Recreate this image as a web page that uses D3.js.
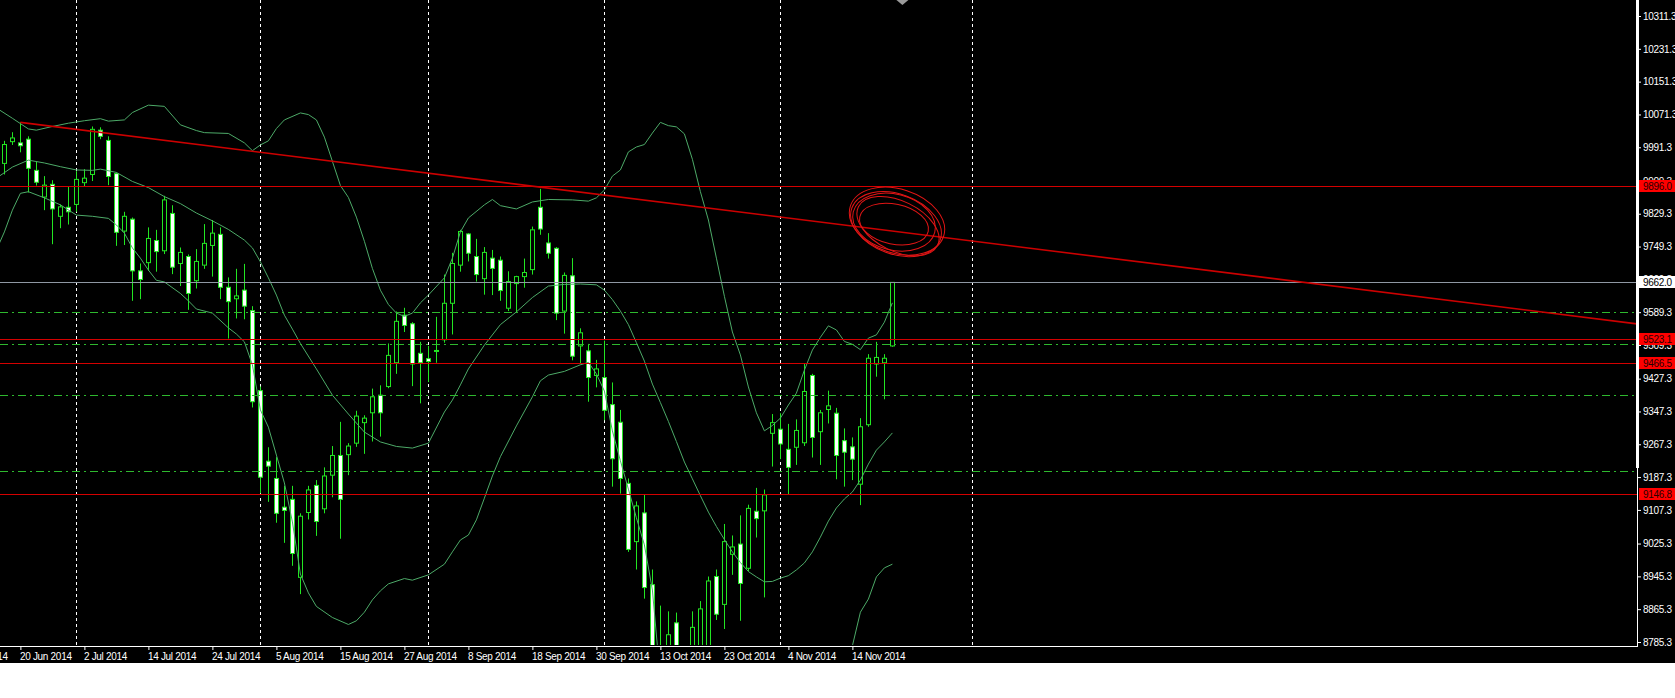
<!DOCTYPE html>
<html><head><meta charset="utf-8">
<script src="https://cdn.jsdelivr.net/npm/d3@7"></script>
<style>
html,body{margin:0;padding:0;background:#fff;overflow:hidden;}
svg{display:block;}
text{font-family:"Liberation Sans",Arial,sans-serif;font-size:10px;letter-spacing:-0.3px;}
</style></head><body>
<script>
// ---------- DATA ----------
const dates = ["2014-06-18","2014-06-19","2014-06-20","2014-06-23","2014-06-24","2014-06-25","2014-06-26","2014-06-27","2014-06-30",
"2014-07-01","2014-07-02","2014-07-03","2014-07-04","2014-07-07","2014-07-08","2014-07-09","2014-07-10","2014-07-11","2014-07-14","2014-07-15","2014-07-16","2014-07-17","2014-07-18","2014-07-21","2014-07-22","2014-07-23","2014-07-24","2014-07-25","2014-07-28","2014-07-29","2014-07-30","2014-07-31",
"2014-08-01","2014-08-04","2014-08-05","2014-08-06","2014-08-07","2014-08-08","2014-08-11","2014-08-12","2014-08-13","2014-08-14","2014-08-15","2014-08-18","2014-08-19","2014-08-20","2014-08-21","2014-08-22","2014-08-25","2014-08-26","2014-08-27","2014-08-28","2014-08-29",
"2014-09-01","2014-09-02","2014-09-03","2014-09-04","2014-09-05","2014-09-08","2014-09-09","2014-09-10","2014-09-11","2014-09-12","2014-09-15","2014-09-16","2014-09-17","2014-09-18","2014-09-19","2014-09-22","2014-09-23","2014-09-24","2014-09-25","2014-09-26","2014-09-29","2014-09-30",
"2014-10-01","2014-10-02","2014-10-06","2014-10-07","2014-10-08","2014-10-09","2014-10-10","2014-10-13","2014-10-14","2014-10-15","2014-10-16","2014-10-17","2014-10-20","2014-10-21","2014-10-22","2014-10-23","2014-10-24","2014-10-27","2014-10-28","2014-10-29","2014-10-30","2014-10-31",
"2014-11-03","2014-11-04","2014-11-05","2014-11-06","2014-11-07","2014-11-10","2014-11-11","2014-11-12","2014-11-13","2014-11-14","2014-11-17","2014-11-18","2014-11-19","2014-11-20","2014-11-21"];
const open  = [9952,10005,10002,10011,9935,9870,9901,9823,9845,9852,9905,9925,10033,10008,9927,9787,9816,9690,9710,9764,9739,9830,9708,9725,9666,9704,9752,9779,9650,9622,9643,9593,
9398,9226,9184,9114,9133,8943,9101,9167,9110,9192,9240,9242,9270,9320,9344,9387,9408,9466,9582,9561,9489,
9476,9494,9522,9611,9704,9780,9725,9671,9721,9716,9599,9659,9676,9693,9845,9758,9745,9592,9678,9507,9495,9435,
9430,9364,9321,9172,9030,9100,8925,8772,8740,8832,8600,8700,8770,8770,8945,8877,8999,9024,8965,9104,9105,9294,
9304,9255,9260,9271,9435,9298,9352,9343,9276,9261,9170,9315,9463,9466,9507];
const high  = [10007,10028,10052,10018,9956,9921,9911,9852,9896,9933,9938,10042,10040,10018,9930,9834,9820,9708,9796,9790,9873,9850,9747,9730,9743,9804,9814,9796,9674,9695,9707,9604,
9408,9260,9236,9166,9166,9099,9166,9180,9211,9263,9322,9270,9349,9338,9403,9411,9513,9591,9600,9565,9517,
9507,9578,9681,9734,9790,9782,9768,9748,9741,9725,9689,9678,9720,9798,9890,9782,9748,9686,9721,9550,9512,9473,
9520,9418,9351,9184,9128,9145,8962,8874,8860,8857,8700,8860,8885,8945,8962,9073,9045,9094,9120,9161,9157,9341,
9343,9317,9328,9463,9439,9351,9398,9356,9306,9284,9331,9487,9517,9487,9662];
const low   = [9925,9997,9979,9881,9898,9838,9755,9794,9803,9834,9895,9909,10011,9899,9751,9753,9617,9621,9690,9688,9731,9682,9653,9595,9647,9695,9676,9621,9525,9574,9572,9357,
9148,9127,9076,9027,8971,8902,9084,9044,9099,9138,9037,9192,9261,9244,9274,9286,9404,9439,9541,9409,9367,
9419,9466,9515,9535,9688,9713,9664,9632,9631,9617,9592,9589,9649,9681,9778,9720,9570,9537,9472,9462,9371,9406,
9326,9164,9147,9005,8962,8891,8740,8700,8700,8550,8400,8650,8740,8740,8839,8817,8949,8837,8958,9040,8894,9213,
9231,9144,9217,9263,9235,9217,9318,9182,9164,9180,9119,9310,9432,9377,9505];
const close = [9998,10014,9995,9940,9906,9899,9841,9846,9834,9913,9916,10035,10018,9920,9784,9823,9690,9669,9769,9737,9863,9699,9735,9635,9713,9757,9782,9650,9615,9629,9604,9371,
9187,9214,9099,9106,9001,9092,9156,9079,9190,9240,9133,9263,9336,9331,9383,9344,9484,9567,9557,9463,9466,
9469,9496,9611,9708,9786,9733,9681,9735,9696,9642,9664,9676,9686,9790,9792,9733,9587,9679,9482,9539,9430,9451,
9350,9232,9184,9011,9117,8918,8770,8750,8803,8600,8650,8821,8866,8934,8853,9030,9017,8928,9111,9086,9144,9320,
9268,9211,9301,9396,9284,9344,9361,9240,9248,9231,9310,9477,9479,9477,9662];

// Bollinger band samples: [bar index, value]
const bbUpper = [[-1,10087],[1,10062],[3,10036],[4,10033],[6,10042],[8,10050],[10,10056],[12,10061],[13,10055],[15,10058],[16,10076],[18,10094],[20,10091],[22,10046],[24,10032],[25,10027],[28,10025],[30,10002],[31,9983],[32,9997],[33,10007],[34,10037],[35,10058],[37,10075],[38,10071],[39,10058],[40,10016],
[42,9898],[43,9869],[44,9821],[45,9762],[46,9696],[47,9643],[48,9608],[49,9587],[50,9579],[51,9587],[52,9612],[53,9631],[55,9673],[56,9721],[57,9785],[58,9819],[60,9851],[61,9864],[62,9849],[64,9841],[66,9858],[68,9864],[71,9863],[73,9860],[74,9868],[75,9887],[76,9921],[77,9936],[78,9980],[79,9992],[80,9998],[81,10026],[82,10052],[83,10044],[84,10041],[85,10024],[86,9962],[87,9883],[88,9814],[89,9721],[90,9628],[91,9541],[92,9485],[93,9407],[94,9344],[95,9300],[96,9313],[97,9331],[98,9363],[99,9392],[100,9448],[101,9497],[102,9528],[103,9556],[104,9546],[105,9518],[106,9511],[107,9498],[108,9526],[109,9534],[110,9565],[111,9612]];
const bbMiddle = [[-1,9916],[1,9943],[3,9960],[5,9953],[7,9944],[9,9936],[11,9935],[12,9938],[14,9930],[16,9908],[18,9893],[20,9871],[22,9854],[24,9831],[26,9812],[28,9791],[30,9765],[31,9746],[32,9712],[33,9673],[34,9631],[35,9582],[36,9548],[37,9513],[39,9451],[41,9387],[43,9341],[45,9297],[47,9273],[49,9262],[51,9258],[53,9270],[55,9346],[56,9375],[57,9412],[58,9451],[60,9509],[62,9559],[64,9590],[66,9625],[68,9653],[70,9657],[72,9658],[74,9656],[75,9643],[76,9620],[77,9592],[78,9559],[79,9515],[80,9470],[81,9414],[82,9369],[83,9323],[84,9274],[85,9224],[86,9183],[87,9142],[88,9102],[89,9067],[90,9035],[91,9005],[92,8979],[93,8957],[94,8944],[95,8932],[96,8933],[97,8941],[98,8947],[99,8961],[100,8978],[101,9005],[102,9041],[103,9080],[104,9112],[105,9134],[106,9151],[107,9180],[108,9219],[109,9253],[110,9273],[111,9295]];
const bbLower = [[-1,9741],[0,9785],[1,9838],[2,9879],[3,9883],[5,9868],[7,9851],[9,9826],[11,9823],[13,9818],[14,9802],[15,9782],[16,9746],[17,9721],[18,9692],[19,9667],[20,9663],[22,9635],[23,9617],[24,9597],[26,9587],[28,9551],[29,9536],[30,9517],[31,9461],[32,9351],[33,9309],[34,9241],[35,9173],[36,9078],[37,8951],[38,8905],[39,8872],[41,8845],[43,8828],[44,8837],[45,8858],[46,8888],[47,8910],[48,8927],[50,8940],[51,8936],[53,8949],[55,8975],[56,9005],[57,9034],[58,9046],[59,9083],[60,9136],[61,9190],[62,9237],[64,9312],[66,9383],[67,9422],[68,9436],[70,9445],[72,9461],[73,9467],[74,9439],[75,9397],[76,9300],[77,9227],[78,9158],[79,9088],[80,9022],[81,8912],[82,8693],[84,8550],[88,8450],[92,8500],[96,8580],[100,8650],[104,8730],[106,8776],[107,8858],[108,8890],[109,8944],[110,8966],[111,8975]];

// Price axis
const yTicks = [10311.3,10231.3,10151.3,10071.3,9991.3,9909.3,9829.3,9749.3,9669.3,9589.3,9509.3,9427.3,9347.3,9267.3,9187.3,9107.3,9025.3,8945.3,8865.3,8785.3];
// Time axis (bar index of each label)
const xTickIdx = [-6,2,10,18,26,34,42,50,58,66,74,82,90,98,106];
const xTickLabels = ["10 Jun 2014","20 Jun 2014","2 Jul 2014","14 Jul 2014","24 Jul 2014","5 Aug 2014","15 Aug 2014","27 Aug 2014","8 Sep 2014","18 Sep 2014","30 Sep 2014","13 Oct 2014","23 Oct 2014","4 Nov 2014","14 Nov 2014"];
// Month separators (bar index)
const separators = [9,32,53,75,97,121];
// Horizontal levels
const redLevels = [9896.0,9523.1,9466.5,9146.8];
const bidLevel = 9662.0;
const greenLevels = [9589.7,9511.7,9387.4,9202.1];
// Trend line anchors: [bar index, price]
const trendAnchors = [[2,10052],[67,9894]];
// Hand-drawn circle annotation anchor
const circleAnchor = {idx:111.45, price:9804};
const circleLoops = [[0,0,47,30,20],[-2,-2,42,28,14],[2,2,44,25,26],[-2,0,35,20,12],[1,-3,49,32,18]];

// ---------- CHART ----------
const W=1675,H=698, plotR=1637, plotB=645;
const svg=d3.select("body").append("svg").attr("width",W).attr("height",H);
svg.append("rect").attr("width",W).attr("height",663).attr("fill","#000");
const x=d3.scaleLinear().domain([-0.55,204.075]).range([0,plotR]);
const y=d3.scaleLinear().domain([8785.3,10311.3]).range([642,16]);

const defs=svg.append("defs");
defs.append("clipPath").attr("id","plot").append("rect").attr("x",0).attr("y",0).attr("width",plotR).attr("height",plotB);
const g=svg.append("g").attr("clip-path","url(#plot)");

// separators
g.selectAll("line.sep").data(separators).join("line")
 .attr("x1",d=>Math.round(x(d))+0.5).attr("x2",d=>Math.round(x(d))+0.5)
 .attr("y1",0).attr("y2",plotB).attr("stroke","#fff").attr("stroke-width",1).attr("stroke-dasharray","3,3");

// candles
const bars=d3.range(dates.length);
const green="#22e622";
g.selectAll("line.wick").data(bars).join("line")
 .attr("x1",i=>Math.round(x(i))+0.5).attr("x2",i=>Math.round(x(i))+0.5)
 .attr("y1",i=>y(high[i])).attr("y2",i=>y(low[i])).attr("stroke",green).attr("stroke-width",1);
g.selectAll("rect.body").data(bars).join("rect")
 .attr("x",i=>Math.round(x(i))-1.5)
 .attr("y",i=>y(Math.max(open[i],close[i])))
 .attr("width",4)
 .attr("height",i=>Math.max(1,Math.abs(y(open[i])-y(close[i]))))
 .attr("fill",i=>close[i]>=open[i]?"#000":"#fff")
 .attr("stroke",green).attr("stroke-width",1);

// Bollinger bands
const line=d3.line().x(d=>x(d[0])).y(d=>y(d[1]));
[bbUpper,bbMiddle,bbLower].forEach(s=>{
  g.append("path").attr("d",line(s)).attr("fill","none").attr("stroke","#4daa68").attr("stroke-width",1);
});

// green dash-dot levels
g.selectAll("line.gl").data(greenLevels).join("line")
 .attr("x1",0).attr("x2",plotR).attr("y1",d=>Math.round(y(d))+0.5).attr("y2",d=>Math.round(y(d))+0.5)
 .attr("stroke","#2eb82e").attr("stroke-width",1).attr("stroke-dasharray","8,4,2,4");

// red levels
g.selectAll("line.rl").data(redLevels).join("line")
 .attr("x1",0).attr("x2",plotR).attr("y1",d=>Math.round(y(d))+0.5).attr("y2",d=>Math.round(y(d))+0.5)
 .attr("stroke","#d40000").attr("stroke-width",1);
// bid line
g.append("line").attr("x1",0).attr("x2",plotR).attr("y1",Math.round(y(bidLevel))+0.5).attr("y2",Math.round(y(bidLevel))+0.5)
 .attr("stroke","#8f98a3").attr("stroke-width",1);

// trend line (ray to the right)
const [a,b]=trendAnchors;
const slope=(b[1]-a[1])/(b[0]-a[0]);
const endIdx=x.domain()[1];
g.append("line").attr("x1",x(a[0])).attr("y1",y(a[1])).attr("x2",x(endIdx)).attr("y2",y(a[1]+slope*(endIdx-a[0])))
 .attr("stroke","#cc0000").attr("stroke-width",1.6);

// hand-drawn circle
const cx0=x(circleAnchor.idx), cy0=y(circleAnchor.price);
g.selectAll("ellipse.sc").data(circleLoops).join("ellipse")
 .attr("cx",d=>cx0+d[0]).attr("cy",d=>cy0+d[1]).attr("rx",d=>d[2]).attr("ry",d=>d[3])
 .attr("transform",d=>`rotate(${d[4]},${cx0+d[0]},${cy0+d[1]})`)
 .attr("fill","none").attr("stroke","#e01515").attr("stroke-width",1);

// shift marker
svg.append("path").attr("d",d3.line()([[x(111)+4,0],[x(111)+16,0],[x(111)+10,5]])).attr("fill","#9a9a9a");

// axes frame
svg.append("rect").attr("x",plotR-1).attr("y",0).attr("width",3).attr("height",468).attr("fill","#fff");
svg.append("line").attr("x1",plotR+0.5).attr("x2",plotR+0.5).attr("y1",0).attr("y2",plotB+1.5).attr("stroke","#fff");
svg.append("line").attr("x1",0).attr("x2",plotR+1).attr("y1",plotB+1.5).attr("y2",plotB+1.5).attr("stroke","#fff");

// Y axis
const yAxis=d3.axisRight(y).tickValues(yTicks).tickFormat(d=>d.toFixed(1)).tickSize(3).tickSizeOuter(0);
const ya=svg.append("g").attr("transform",`translate(${plotR+1},0)`).call(yAxis);
ya.select(".domain").remove();
ya.selectAll("line").attr("stroke","#fff");
ya.selectAll("text").attr("fill","#fff").attr("x",5).style("font-size","10px");

// price labels
function priceLabel(v,bg,fg){
  const yy=Math.round(y(v));
  svg.append("rect").attr("x",plotR+2).attr("y",yy-6).attr("width",W-plotR-2).attr("height",12).attr("fill",bg);
  svg.append("text").attr("x",plotR+6).attr("y",yy).attr("dy","0.35em").attr("fill",fg).text(v.toFixed(1));
}
redLevels.forEach(v=>priceLabel(v,"#ff0000","#2a0000"));
priceLabel(bidLevel,"#ffffff","#000");

// X axis
const xAxis=d3.axisBottom(x).tickValues(xTickIdx).tickFormat((d,i)=>xTickLabels[i]).tickSize(4).tickSizeOuter(0);
const xa=svg.append("g").attr("transform",`translate(0,${plotB+1})`).call(xAxis);
xa.select(".domain").remove();
xa.selectAll("line").attr("stroke","#fff");
xa.selectAll("text").attr("fill","#fff").attr("text-anchor","start").attr("x",-1).attr("y",7).attr("dy","0.71em").style("font-size","10px");
</script>
</body></html>
